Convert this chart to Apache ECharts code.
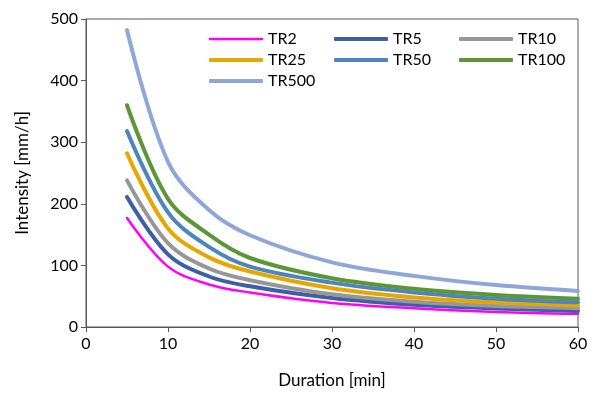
<!DOCTYPE html>
<html>
<head>
<meta charset="utf-8">
<script src="https://cdn.jsdelivr.net/npm/echarts@6/dist/echarts.min.js"></script>
<style>html,body{margin:0;padding:0;background:#fff}#c{width:595px;height:394px}</style>
</head>
<body>
<div id="c"></div>
<script>
const durations = [5, 10, 15, 20, 30, 40, 50, 60];
const TR2   = [177, 98, 69, 56, 39, 30.6, 24.5, 21.5];
const TR5   = [211, 118, 82, 66, 47, 36, 30, 26];
const TR10  = [238, 136, 95, 76, 53, 41, 34, 30.6];
const TR25  = [282, 160, 113, 90, 63, 48, 40, 35];
const TR50  = [318, 186, 130, 98, 72, 56, 46, 40];
const TR100 = [360, 208, 150, 112, 79, 62, 52, 45.7];
const TR500 = [482, 268, 190, 149, 105, 83, 68, 58.6];
const seriesNames = ['TR2','TR5','TR10','TR25','TR50','TR100','TR500'];
const seriesValues = [TR2, TR5, TR10, TR25, TR50, TR100, TR500];
const colors = ['#FF00FF','#3D5FA6','#979797','#E6A700','#4D86BF','#5D9639','#8FA6D8'];
const widths = [2.5, 4, 4, 4, 4, 4, 4];
const xTicks = {min: 0, max: 60, interval: 10};
const yTicks = {min: 0, max: 500, interval: 100};

const legendPos = [
  [209, 31], [334, 31], [459, 31],
  [209, 52], [334, 52], [459, 52],
  [209, 73]
];
const font = 'Lato, "Open Sans", sans-serif';

const chart = echarts.init(document.getElementById('c'), null, {renderer: 'canvas'});
chart.setOption({
  animation: false,
  backgroundColor: '#fff',
  grid: {left: 86, right: 17, top: 19, bottom: 65, show: true, borderColor: '#595959', borderWidth: 1},
  legend: seriesNames.map((n, i) => ({
    show: true,
    data: [{name: n, icon: 'roundRect'}],
    left: legendPos[i][0], top: legendPos[i][1],
    itemWidth: 54, itemHeight: widths[i], itemGap: 5,
    textStyle: {fontFamily: font, fontSize: 16, color: '#000', lineHeight: 16},
    padding: 0
  })),
  xAxis: {
    type: 'value', min: xTicks.min, max: xTicks.max, interval: xTicks.interval,
    name: 'Duration [min]', nameLocation: 'middle', nameGap: 45,
    nameTextStyle: {fontFamily: font, fontSize: 17, color: '#000'},
    axisLine: {lineStyle: {color: '#595959', width: 1}},
    axisTick: {show: true, length: 5, lineStyle: {color: '#595959'}},
    axisLabel: {fontFamily: font, fontSize: 16, color: '#000', margin: 9},
    splitLine: {show: false}
  },
  yAxis: {
    type: 'value', min: yTicks.min, max: yTicks.max, interval: yTicks.interval,
    name: 'Intensity [mm/h]', nameLocation: 'middle', nameGap: 55,
    nameTextStyle: {fontFamily: font, fontSize: 17, color: '#000'},
    axisLine: {show: true, lineStyle: {color: '#595959', width: 1}},
    axisTick: {show: true, length: 5, lineStyle: {color: '#595959'}},
    axisLabel: {fontFamily: font, fontSize: 16, color: '#000', margin: 8},
    splitLine: {show: false}
  },
  series: seriesNames.map((n, i) => ({
    name: n, type: 'line', smooth: 0.35, showSymbol: false,
    data: durations.map((d, k) => [d, seriesValues[i][k]]),
    lineStyle: {color: colors[i], width: widths[i], cap: 'round'},
    itemStyle: {color: colors[i]}
  }))
});
</script>
</body>
</html>
